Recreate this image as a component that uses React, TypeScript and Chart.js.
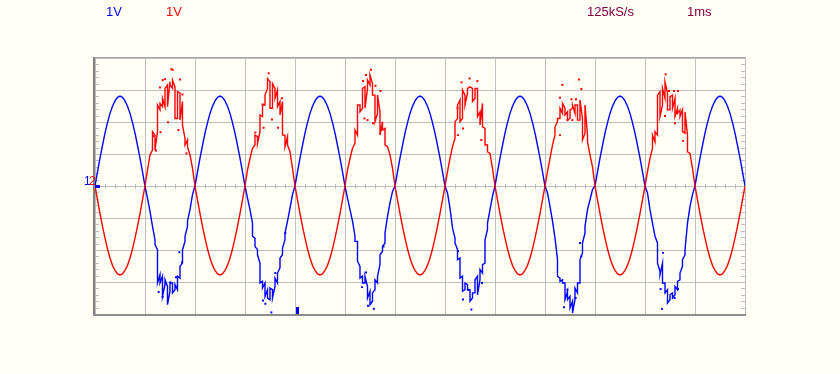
import React, { useEffect, useRef } from "react";
import { Chart, registerables } from "chart.js";

Chart.register(...registerables);

// ---- axes ----
const SAMPLE_MS = 0.05; // sampling interval of the value arrays (ms)
const TIME_MIN = 0;
const TIME_MAX = 13; // ms (1 ms / div, 13 div)
const VOLT_MIN = -4;
const VOLT_MAX = 4; // 1 V / div, 8 div
const TRIGGER_MS = 4.02;

// ---- header labels ----
const ch1Label = "1V";
const ch2Label = "1V";
const rateLabel = "125kS/s";
const timebaseLabel = "1ms";

// ---- channel 1 (blue), one value (or [first, second] vertical jump) per 0.05 ms ----
type S = number | number[];
const blueV: S[] = [
  0, 0.44, 0.87, 1.27, 1.65, 1.98, 2.27, 2.49, 2.66, 2.77, 2.81, 2.77, 2.66, 2.49, 2.27, 1.98, 1.65, 1.27, 0.87, 0.44,
  0, -0.38, -0.79, -1.26, [-1.68, -1.83], [-1.99, -3.03], [-2.77, -3.03], [-2.82, -3.45], [-3.08, -2.93], [-3.14, -3.71], [-3.29, -3.03], [-3.03, -3.34], [-3.24, -3.08], [-3.24, -2.82], [-2.88, -2.51], [-2.41, -1.99], [-1.73, -1.57], [-1.26, -1.1], -0.74, -0.27,
  0, 0.44, 0.87, 1.27, 1.65, 1.98, 2.27, 2.49, 2.66, 2.77, 2.81, 2.77, 2.66, 2.49, 2.27, 1.98, 1.65, 1.27, 0.87, 0.44,
  0, -0.38, -0.74, [-1.16, -1.57], [-1.63, -1.89], [-1.99, -2.15], [-2.41, -3.03], [-2.98, -3.19], [-3.03, -3.45], [-3.24, -3.5], [-3.55, -3.19], [-3.24, -3.5], [-3.14, -2.88], [-3.03, -2.72], [-2.56, -2.25], [-2.15, -1.94], [-1.68, -1.47], -1.1, -0.69, -0.27,
  0, 0.44, 0.87, 1.27, 1.65, 1.98, 2.27, 2.49, 2.66, 2.77, 2.81, 2.77, 2.66, 2.49, 2.27, 1.98, 1.65, 1.27, 0.87, 0.44,
  0, -0.38, -0.74, -1.1, [-1.57, -1.73], [-1.73, -2.35], [-2.51, -2.88], [-2.82, -3.03], [-3.03, -2.82], [-3.14, -3.5], [-3.29, -3.71], [-3.6, -3.34], [-3.24, -2.93], [-3.03, -2.82], [-2.46, -2.15], [-2.04, -1.89], [-1.78, -1.47], -0.95, -0.53, -0.17,
  0, 0.44, 0.87, 1.27, 1.65, 1.98, 2.27, 2.49, 2.66, 2.77, 2.81, 2.77, 2.66, 2.49, 2.27, 1.98, 1.65, 1.27, 0.87, 0.44,
  0, -0.22, -0.69, -1.31, [-1.63, -1.78], [-1.99, -2.3], [-2.25, -2.88], [-2.82, -3.29], [-3.24, -3.03], [-3.08, -3.24], [-3.24, -3.6], [-3.5, -3.34], [-3.34, -2.93], [-2.82, -3.4], [-2.93, -2.61], [-2.72, -2.46], [-2.41, -1.68], [-1.36, -1.16], -0.74, -0.32,
  0, 0.44, 0.87, 1.27, 1.65, 1.98, 2.27, 2.49, 2.66, 2.77, 2.81, 2.77, 2.66, 2.49, 2.27, 1.98, 1.65, 1.27, 0.87, 0.44,
  0, -0.22, -0.64, -1.1, -1.63, [-2.3, -2.82], [-2.88, -2.98], [-2.93, -3.03], [-3.03, -3.55], [-3.29, -3.55], [-3.45, -3.81], [-3.6, -3.97], [-3.55, -3.19], [-3.34, -3.03], [-3.03, -2.3], [-2.09, -1.78], [-1.47, -1.26], -0.74, -0.43, -0.11,
  0, 0.44, 0.87, 1.27, 1.65, 1.98, 2.27, 2.49, 2.66, 2.77, 2.81, 2.77, 2.66, 2.49, 2.27, 1.98, 1.65, 1.27, 0.87, 0.44,
  0, -0.22, -0.74, -1.16, -1.57, [-1.78, -2.41], [-2.67, -2.77], [-2.41, -3.03], [-3.03, -3.34], [-3.24, -3.66], [-3.55, -3.4], [-3.34, -3.5], [-3.4, -3.14], [-3.24, -2.98], [-2.93, -2.72], [-2.51, -2.3], [-2.15, -1.99], -1.16, -0.64, -0.27,
  0, 0.44, 0.87, 1.27, 1.65, 1.98, 2.27, 2.49, 2.66, 2.77, 2.81, 2.77, 2.66, 2.49, 2.27, 1.98, 1.65, 1.27, 0.87, 0.44,
  0,
];

// ---- channel 2 (red) ----
const redV: S[] = [
  0, -0.43, -0.86, -1.26, -1.63, -1.97, -2.25, -2.48, -2.64, -2.75, -2.78, -2.75, -2.64, -2.48, -2.25, -1.97, -1.63, -1.26, -0.86, -0.43,
  0, 0.5, 0.97, [1.12, 1.7], [1.59, 1.12], [1.7, 2.53], [2.38, 2.58], [2.48, 2.74], [2.48, 3.05], [3.16, 2.48], [3.26, 3.16], [3.05, 3.31], [3.1, 2.11], [2.11, 2.95], [2.9, 2.06], [2.64, 1.9], [1.49, 1.28], [1.44, 1.23], 0.97, 0.55,
  0, -0.43, -0.86, -1.26, -1.63, -1.97, -2.25, -2.48, -2.64, -2.75, -2.78, -2.75, -2.64, -2.48, -2.25, -1.97, -1.63, -1.26, -0.86, -0.43,
  0, 0.5, 0.86, 1.18, [1.28, 1.59], [1.54, 1.33], [1.7, 2.22], [2.17, 2.53], [2.53, 2.84], [3.05, 3.36], [3.26, 2.43], [2.43, 3.2], [3.05, 2.74], [3.0, 2.48], [2.64, 2.22], [2.64, 1.59], [1.59, 1.23], [1.54, 1.28], 1.07, 0.55,
  0, -0.43, -0.86, -1.26, -1.63, -1.97, -2.25, -2.48, -2.64, -2.75, -2.78, -2.75, -2.64, -2.48, -2.25, -1.97, -1.63, -1.26, -0.86, -0.43,
  0, 0.5, 0.86, 1.18, [1.33, 1.75], [1.59, 2.53], [2.53, 2.32], [2.43, 3.05], [3.1, 2.43], [3.05, 3.31], [3.16, 3.47], [3.2, 2.84], [2.84, 2.01], [2.27, 2.84], [2.32, 1.59], [2.01, 1.75], [1.8, 1.28], 1.23, 0.97, 0.55,
  0, -0.43, -0.86, -1.26, -1.63, -1.97, -2.25, -2.48, -2.64, -2.75, -2.78, -2.75, -2.64, -2.48, -2.25, -1.97, -1.63, -1.26, -0.86, -0.43,
  0, 0.45, 0.86, 1.23, [1.49, 2.01], [2.11, 2.53], [2.69, 2.01], [2.11, 3.0], [2.84, 2.53], [2.9, 3.05], 3.1, [3.05, 2.64], [2.74, 3.05], [3.05, 2.17], [2.32, 1.91], [2.58, 1.85], [1.8, 1.28], [1.28, 1.07], 1.02, 0.55,
  0, -0.43, -0.86, -1.26, -1.63, -1.97, -2.25, -2.48, -2.64, -2.75, -2.78, -2.75, -2.64, -2.48, -2.25, -1.97, -1.63, -1.26, -0.86, -0.43,
  0, 0.45, 0.86, 1.28, [1.59, 1.85], [2.01, 2.11], [2.11, 2.43], [2.27, 2.58], [2.43, 2.22], [2.32, 2.06], [2.11, 2.38], [2.43, 2.53], [2.27, 2.53], [2.53, 2.06], [2.06, 2.69], [2.11, 1.44], [1.65, 2.53], [1.59, 1.38], 0.97, 0.6,
  0, -0.43, -0.86, -1.26, -1.63, -1.97, -2.25, -2.48, -2.64, -2.75, -2.78, -2.75, -2.64, -2.48, -2.25, -1.97, -1.63, -1.26, -0.86, -0.43,
  0, 0.45, 0.86, [1.18, 1.59], [1.38, 1.7], [1.59, 2.84], [2.95, 2.17], [2.53, 3.05], [2.74, 3.26], [2.9, 2.38], [2.38, 2.79], [2.84, 2.43], [2.74, 2.17], [2.43, 2.27], [2.38, 2.17], [2.38, 1.7], [1.65, 2.32], [1.59, 1.07], 1.02, 0.55,
  0, -0.43, -0.86, -1.26, -1.63, -1.97, -2.25, -2.48, -2.64, -2.75, -2.78, -2.75, -2.64, -2.48, -2.25, -1.97, -1.63, -1.26, -0.86, -0.43,
  0,
];

// ---- isolated glitch samples ----
const redDotT = [1.527, 1.553, 1.353, 1.4, 1.3, 1.7, 1.75, 1.46, 1.67, 1.31, 1.83, 1.22, 1.17,
  3.473, 3.353, 3.54, 3.373, 3.66, 3.207, 3.74,
  5.52, 5.42, 5.36, 5.61, 5.71, 5.45, 5.56, 5.39,
  7.33, 7.493, 7.647, 7.36, 7.26, 7.727, 7.25,
  9.347, 9.68, 9.727, 9.3, 9.53, 9.62, 9.3, 9.45, 9.547,
  11.413, 11.48, 11.58, 11.66, 11.4, 11.6, 11.76];
const redDotV = [3.65, 3.63, 3.31, 3.34, 3.08, 3.33, 2.86, 1.99, 1.75, 1.68, 1.02, 1.11, 1.56,
  3.52, 2.55, 2.08, 1.82, 1.82, 1.67, 2.74,
  3.63, 3.47, 3.28, 3.13, 2.97, 2.06, 1.96, 2.11,
  3.24, 3.36, 3.28, 1.8, 1.59, 1.44, 2.43,
  3.16, 3.33, 3.03, 2.76, 2.71, 2.71, 1.59, 2.06, 2.06,
  3.49, 2.97, 2.97, 2.97, 2.19, 1.96, 1.41];
const blueDotT = [1.687, 1.353, 1.273, 1.507, 1.62, 1.74,
  3.527, 3.36, 3.407, 3.607, 3.807,
  5.34, 5.42, 5.46, 5.577, 5.77,
  7.26, 7.527, 7.36, 7.74, 7.46,
  9.38, 9.7, 9.727, 9.447, 9.613,
  11.36, 11.313, 11.34, 11.66, 11.593];
const blueDotV = [-2.07, -3.47, -3.31, -3.01, -2.85, -2.39,
  -3.95, -3.58, -3.68, -2.72, -1.47,
  -3.16, -2.7, -3.74, -3.84, -1.89,
  -2.04, -3.86, -3.55, -3.03, -3.24,
  -3.79, -1.78, -2.2, -3.24, -3.5,
  -2.09, -3.22, -3.84, -3.22, -3.5];

const BLUE = "#0000FF";
const RED = "#FF0000";
const MAROON = "#800040";
const BG = "#FFFFF6";
const GRID = "#BEBEBE";

function toPoints(values: S[]) {
  const out: { x: number; y: number }[] = [];
  values.forEach((v, i) => {
    const t = +(i * SAMPLE_MS).toFixed(3);
    if (Array.isArray(v)) v.forEach((y) => out.push({ x: t, y }));
    else out.push({ x: t, y: v });
  });
  return out;
}

function toDots(ts: number[], vs: number[]) {
  return ts.map((t, i) => ({ x: t, y: vs[i] }));
}

const scopePlugin = {
  id: "scopeDecor",
  beforeDatasetsDraw(chart: any) {
    const { ctx, chartArea: a, scales } = chart;
    const x = scales.x;
    const y = scales.y;
    ctx.save();
    ctx.strokeStyle = GRID;
    ctx.lineWidth = 1;
    ctx.beginPath();
    for (let i = 0; i <= 40; i++) {
      const v = VOLT_MIN + i * 0.2;
      const py = Math.round(y.getPixelForValue(v)) + 0.5;
      ctx.moveTo(a.left, py);
      ctx.lineTo(a.left + 4, py);
      ctx.moveTo(a.right - 4, py);
      ctx.lineTo(a.right, py);
    }
    const y0 = Math.round(y.getPixelForValue(0));
    for (let i = 0; i <= 65; i++) {
      const t = TIME_MIN + i * 0.2;
      const px = Math.round(x.getPixelForValue(t)) + 0.5;
      ctx.moveTo(px, y0 - 2);
      ctx.lineTo(px, y0 + 3);
    }
    ctx.stroke();
    ctx.restore();
  },
  afterDraw(chart: any) {
    const { ctx, chartArea: a, scales } = chart;
    const x = scales.x;
    const y = scales.y;
    ctx.save();
    // frame
    ctx.fillStyle = "#A6A6A6";
    ctx.fillRect(a.left - 1, a.top - 1, a.right - a.left + 2, 1);
    ctx.fillStyle = "#C0C0C0";
    ctx.fillRect(a.right, a.top - 1, 1, a.bottom - a.top + 2);
    ctx.fillStyle = "#808080";
    ctx.fillRect(a.left - 2, a.top - 1, 2, a.bottom - a.top + 3);
    ctx.fillStyle = "#8C8C8C";
    ctx.fillRect(a.left - 2, a.bottom, a.right - a.left + 3, 2);

    // markers
    const y0 = Math.round(y.getPixelForValue(0));
    ctx.fillStyle = BLUE;
    ctx.fillRect(a.left, y0 - 1, 5, 3);
    const tx = Math.round(x.getPixelForValue(TRIGGER_MS));
    ctx.fillRect(tx, a.bottom - 7, 3, 7);

    // header text
    ctx.textBaseline = "alphabetic";
    ctx.textAlign = "left";
    ctx.font = "13px 'Liberation Sans', Arial, sans-serif";
    ctx.fillStyle = BLUE;
    ctx.fillText(ch1Label, 106, 16);
    ctx.fillStyle = RED;
    ctx.fillText(ch2Label, 166, 16);
    ctx.fillStyle = MAROON;
    ctx.fillText(rateLabel, 587, 16);
    ctx.fillText(timebaseLabel, 687, 16);

    // channel markers "12"
    ctx.font = "12px 'Liberation Sans', Arial, sans-serif";
    ctx.fillStyle = BLUE;
    ctx.fillText("1", 84, y0 - 1);
    ctx.fillStyle = RED;
    ctx.fillText("2", 89, y0 - 1);
    ctx.restore();
  },
};

export default function App() {
  const ref = useRef<HTMLCanvasElement>(null);
  useEffect(() => {
    if (!ref.current) return;
    const chart = new Chart(ref.current, {
      type: "line",
      data: {
        datasets: [
          {
            label: "CH2",
            data: toPoints(redV),
            borderColor: RED,
            borderWidth: 1.4,
            pointRadius: 0,
            tension: 0,
            fill: false,
          },
          {
            label: "CH1",
            data: toPoints(blueV),
            borderColor: BLUE,
            borderWidth: 1.4,
            pointRadius: 0,
            tension: 0,
            fill: false,
          },
          {
            type: "scatter",
            label: "CH2 glitch",
            data: toDots(redDotT, redDotV),
            backgroundColor: RED,
            borderWidth: 0,
            pointStyle: "rect",
            pointRadius: 1.4,
            showLine: false,
          } as any,
          {
            type: "scatter",
            label: "CH1 glitch",
            data: toDots(blueDotT, blueDotV),
            backgroundColor: BLUE,
            borderWidth: 0,
            pointStyle: "rect",
            pointRadius: 1.4,
            showLine: false,
          } as any,
        ],
      },
      options: {
        animation: false,
        responsive: false,
        maintainAspectRatio: false,
        events: [],
        layout: { padding: { left: 95, right: 95, top: 58, bottom: 60 } },
        plugins: { legend: { display: false }, tooltip: { enabled: false } },
        scales: {
          x: {
            type: "linear",
            min: TIME_MIN,
            max: TIME_MAX,
            ticks: { display: false, stepSize: 1 },
            grid: { color: GRID, drawTicks: false, lineWidth: 1 },
            border: { display: false },
          },
          y: {
            type: "linear",
            min: VOLT_MIN,
            max: VOLT_MAX,
            ticks: { display: false, stepSize: 1 },
            grid: { color: GRID, drawTicks: false, lineWidth: 1 },
            border: { display: false },
          },
        },
      },
      plugins: [scopePlugin],
    });
    return () => chart.destroy();
  }, []);
  return (
    <div style={{ position: "fixed", left: 0, top: 0, width: 840, height: 374, background: BG }}>
      <canvas ref={ref} width={840} height={374} style={{ width: 840, height: 374, display: "block" }} />
    </div>
  );
}
